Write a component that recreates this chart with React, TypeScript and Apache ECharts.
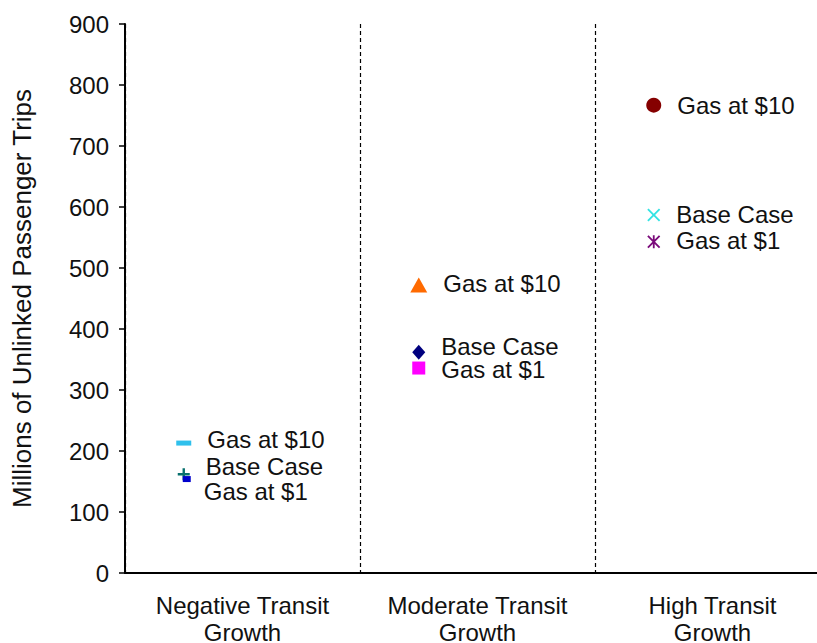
import React, { useEffect, useRef } from "react";
import * as echarts from "echarts";

const categories = ["Negative Transit\nGrowth", "Moderate Transit\nGrowth", "High Transit\nGrowth"];
const scenarios = ["Gas at $10", "Base Case", "Gas at $1"];
const gas10 = [213, 472, 767];
const baseCase = [162, 362, 587];
const gas1 = [154, 336, 543];
const yTicks = { min: 0, max: 900, interval: 100 };

const FONT = "'Liberation Sans', Arial, sans-serif";

const PLUS = "path://M4,0H6V4H10V6H6V10H4V6H0V4H4Z";
const CROSS = "path://M0,1L1,0L5,4L9,0L10,1L6,5L10,9L9,10L5,6L1,10L0,9L4,5Z";
const STAR = "path://M0,1L1,0L5,4L9,0L10,1L6,5L10,9L9,10L5,6L1,10L0,9L4,5Z M4.3,0H5.7V10H4.3Z";

// per-category marker styles, for each scenario
const styles = {
  gas10: [
    { symbol: "rect", size: [15, 5], color: "#2FC0EC", dy: -4 },
    { symbol: "triangle", size: [17, 15], color: "#FF6A00", dy: -2 },
    { symbol: "circle", size: 15, color: "#850000", dy: 0 },
  ],
  base: [
    { symbol: PLUS, size: 12, color: "#08706E", dy: -8 },
    { symbol: "diamond", size: [13, 15], color: "#00007F", dy: -6 },
    { symbol: CROSS, size: 13, color: "#33E3E3", dy: 0 },
  ],
  gas1: [
    { symbol: "rect", size: [8, 6], color: "#0000CC", dy: 12, dx: 3 },
    { symbol: "rect", size: [13, 13], color: "#FF00FF", dy: 1 },
    { symbol: STAR, size: 13, color: "#7A0A7A", dy: -1 },
  ],
};

function buildSeries(name: string, values: number[], st: any[]) {
  return {
    type: "scatter",
    name,
    xAxisIndex: 1,
    yAxisIndex: 0,
    data: values.map((v, i) => ({
      value: [i + 0.25, v],
      symbol: st[i].symbol,
      symbolSize: st[i].size,
      symbolOffset: [st[i].dx || 0, 0],
      itemStyle: { color: st[i].color, opacity: 1 },
      label: {
        show: true,
        position: "right",
        distance: 16 - (st[i].dx || 0),
        offset: [0, st[i].dy],
        formatter: name,
        color: "#111",
        fontSize: 24,
        fontFamily: FONT,
      },
    })),
  };
}

export default function App() {
  const ref = useRef<HTMLDivElement>(null);
  useEffect(() => {
    document.body.style.margin = "0";
    const chart = echarts.init(ref.current!, undefined, { renderer: "svg" });
    chart.setOption({
      animation: false,
      backgroundColor: "#fff",
      textStyle: { fontFamily: FONT },
      grid: { left: 125, top: 24, bottom: 70, width: 705, outerBoundsMode: "none", containLabel: false },
      xAxis: [
        {
          type: "category",
          data: categories,
          boundaryGap: true,
          axisLine: { show: true, lineStyle: { color: "#000", width: 2 } },
          axisTick: { show: false },
          axisLabel: {
            color: "#111",
            fontSize: 24,
            fontFamily: FONT,
            lineHeight: 27,
            margin: 19,
            interval: 0,
          },
          splitLine: { show: false },
        },
        {
          type: "value",
          min: 0,
          max: 3,
          interval: 1,
          show: true,
          position: "bottom",
          axisLine: { show: false },
          axisTick: { show: false },
          axisLabel: { show: false },
          splitLine: { show: true, lineStyle: { color: "#000", type: [4, 3], width: 1.2 } },
        },
      ],
      yAxis: {
        type: "value",
        min: yTicks.min,
        max: yTicks.max,
        interval: yTicks.interval,
        name: "Millions of Unlinked Passenger Trips",
        nameLocation: "middle",
        nameGap: 90,
        nameTextStyle: { color: "#111", fontSize: 26, fontFamily: FONT },
        axisLine: { show: true, lineStyle: { color: "#000", width: 2 } },
        axisTick: { show: true, length: 6, lineStyle: { color: "#000", width: 1.5 } },
        axisLabel: { color: "#111", fontSize: 24, fontFamily: FONT, margin: 16 },
        splitLine: { show: false },
      },
      series: [
        buildSeries(scenarios[0], gas10, styles.gas10),
        buildSeries(scenarios[1], baseCase, styles.base),
        buildSeries(scenarios[2], gas1, styles.gas1),
      ],
    });
    return () => chart.dispose();
  }, []);
  return <div ref={ref} style={{ width: 817, height: 643 }} />;
}
